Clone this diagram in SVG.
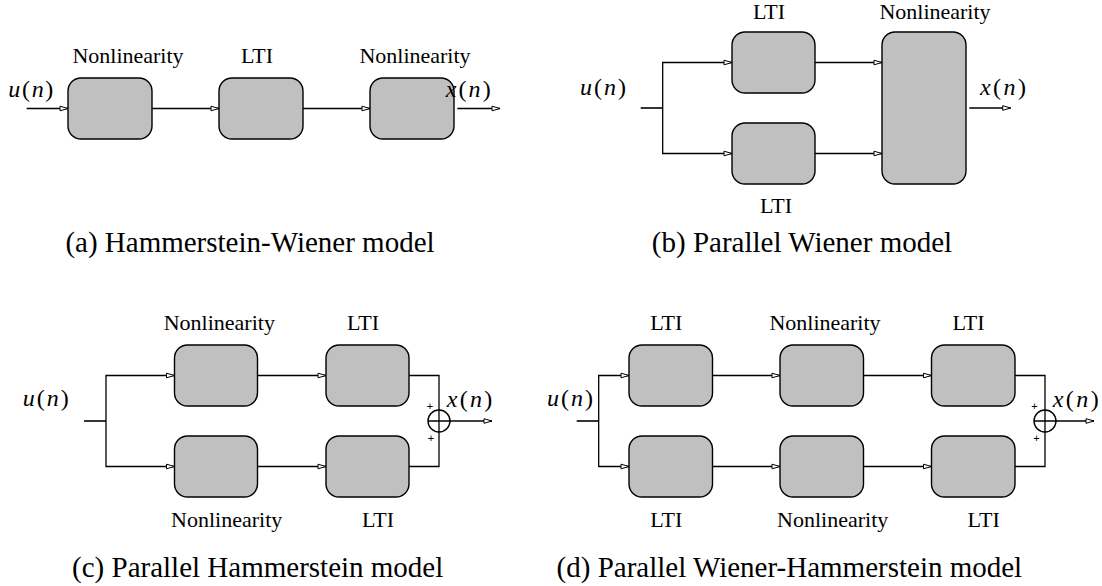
<svg xmlns="http://www.w3.org/2000/svg" width="1102" height="586" viewBox="0 0 1102 586">
<style>
.box{fill:#c0c0c0;stroke:#000;stroke-width:1.4}
.ln{fill:none;stroke:#000;stroke-width:1.3}
.stub{fill:none;stroke:#333;stroke-width:2}
.sum{fill:none;stroke:#000;stroke-width:1.4}
.lbl{font-family:"Liberation Serif",serif;font-size:22px;fill:#000;text-anchor:middle}
.math{font-family:"Liberation Serif",serif;font-size:24px;fill:#000}
.it{font-style:italic}
.cap{font-family:"Liberation Serif",serif;font-size:29px;fill:#000;text-anchor:middle}
.plus{font-family:"Liberation Sans",sans-serif;font-size:11px;fill:#000;text-anchor:middle}
</style>
<defs>
<marker id="arr" markerUnits="userSpaceOnUse" markerWidth="12" markerHeight="8" refX="9" refY="4" orient="auto">
<path d="M1,1.7 L9,4 L1,6.3 Z" fill="#fff" stroke="#000" stroke-width="1"/>
</marker>
</defs>

<!-- (a) Hammerstein-Wiener -->
<g id="a-n1"><rect class="box" x="68" y="78" width="84" height="61" rx="13"/><text class="lbl" x="128" y="63">Nonlinearity</text></g>
<g id="a-lti"><rect class="box" x="219" y="78" width="84" height="61" rx="13"/><text class="lbl" x="257" y="63">LTI</text></g>
<g id="a-n2"><rect class="box" x="370" y="78" width="84" height="61" rx="13"/><text class="lbl" x="415" y="63">Nonlinearity</text></g>
<g id="a-io">
<text class="math" x="8.3" y="96.5" textLength="45" lengthAdjust="spacing"><tspan class="it">u</tspan>(<tspan class="it">n</tspan>)</text>
<text class="math" x="445.7" y="96.5" textLength="45" lengthAdjust="spacing"><tspan class="it">x</tspan>(<tspan class="it">n</tspan>)</text>
</g>
<g id="a-conn">
<path class="ln" d="M26.7,108.5 H68" marker-end="url(#arr)"/>
<path class="ln" d="M152,108.5 H219" marker-end="url(#arr)"/>
<path class="ln" d="M303,108.5 H370" marker-end="url(#arr)"/>
<path class="ln" d="M457.3,108.5 H500" marker-end="url(#arr)"/>
</g>
<text class="cap" x="250" y="252">(a) Hammerstein-Wiener model</text>

<!-- (b) Parallel Wiener -->
<g id="b-lti1"><rect class="box" x="732" y="32" width="83" height="61" rx="13"/><text class="lbl" x="769" y="18.5">LTI</text></g>
<g id="b-lti2"><rect class="box" x="732" y="123" width="83" height="61" rx="13"/><text class="lbl" x="776" y="213.3">LTI</text></g>
<g id="b-n"><rect class="box" x="882" y="32" width="84" height="152" rx="13"/><text class="lbl" x="935" y="18.5">Nonlinearity</text></g>
<g id="b-io">
<text class="math" x="580" y="95" textLength="46" lengthAdjust="spacing"><tspan class="it">u</tspan>(<tspan class="it">n</tspan>)</text>
<text class="math" x="980" y="95" textLength="46" lengthAdjust="spacing"><tspan class="it">x</tspan>(<tspan class="it">n</tspan>)</text>
</g>
<g id="b-conn">
<path class="stub" d="M640.7,108 H662.7"/>
<path class="ln" d="M662.7,108 V62.5 H732" marker-end="url(#arr)"/>
<path class="ln" d="M662.7,108 V153.5 H732" marker-end="url(#arr)"/>
<path class="ln" d="M815,62.5 H882" marker-end="url(#arr)"/>
<path class="ln" d="M815,153.5 H882" marker-end="url(#arr)"/>
<path class="ln" d="M969.3,108 H1010.7" marker-end="url(#arr)"/>
</g>
<text class="cap" x="802" y="252">(b) Parallel Wiener model</text>

<!-- (c) Parallel Hammerstein -->
<g id="c-n1"><rect class="box" x="174.5" y="345" width="83" height="61" rx="13"/><text class="lbl" x="219.3" y="330">Nonlinearity</text></g>
<g id="c-l1"><rect class="box" x="326" y="345" width="83" height="61" rx="13"/><text class="lbl" x="363" y="330">LTI</text></g>
<g id="c-n2"><rect class="box" x="174.5" y="436" width="83" height="61" rx="13"/><text class="lbl" x="226.7" y="526.7">Nonlinearity</text></g>
<g id="c-l2"><rect class="box" x="326" y="436" width="83" height="61" rx="13"/><text class="lbl" x="378" y="526.7">LTI</text></g>
<g id="c-sum">
<circle class="sum" cx="439" cy="421" r="11"/>
<text class="plus" x="430" y="409.5">+</text>
<text class="plus" x="431" y="441.5">+</text>
</g>
<g id="c-io">
<text class="math" x="22.8" y="406" textLength="46" lengthAdjust="spacing"><tspan class="it">u</tspan>(<tspan class="it">n</tspan>)</text>
<text class="math" x="446.7" y="406.7" textLength="45.6" lengthAdjust="spacing"><tspan class="it">x</tspan>(<tspan class="it">n</tspan>)</text>
</g>
<g id="c-conn">
<path class="stub" d="M84,421 H106"/>
<path class="ln" d="M106,421 V375.5 H174.5" marker-end="url(#arr)"/>
<path class="ln" d="M106,421 V466.5 H174.5" marker-end="url(#arr)"/>
<path class="ln" d="M257.5,375.5 H326" marker-end="url(#arr)"/>
<path class="ln" d="M257.5,466.5 H326" marker-end="url(#arr)"/>
<path class="ln" d="M409,375.5 H439 V466.5 H409"/>
<path class="ln" d="M428,421 H492" marker-end="url(#arr)"/>
</g>
<text class="cap" x="257.7" y="576.7">(c) Parallel Hammerstein model</text>

<!-- (d) Parallel Wiener-Hammerstein -->
<g id="d-l1"><rect class="box" x="629" y="345" width="83.5" height="61" rx="13"/><text class="lbl" x="666.3" y="330">LTI</text></g>
<g id="d-n1"><rect class="box" x="780" y="345" width="83.5" height="61" rx="13"/><text class="lbl" x="825" y="330">Nonlinearity</text></g>
<g id="d-l2"><rect class="box" x="931.5" y="345" width="83.5" height="61" rx="13"/><text class="lbl" x="968.5" y="330">LTI</text></g>
<g id="d-l3"><rect class="box" x="629" y="436" width="83.5" height="61" rx="13"/><text class="lbl" x="666.3" y="526.7">LTI</text></g>
<g id="d-n2"><rect class="box" x="780" y="436" width="83.5" height="61" rx="13"/><text class="lbl" x="832.7" y="526.7">Nonlinearity</text></g>
<g id="d-l4"><rect class="box" x="931.5" y="436" width="83.5" height="61" rx="13"/><text class="lbl" x="983.7" y="526.7">LTI</text></g>
<g id="d-sum">
<circle class="sum" cx="1045" cy="421" r="11"/>
<text class="plus" x="1034.5" y="409.5">+</text>
<text class="plus" x="1036.5" y="441.5">+</text>
</g>
<g id="d-io">
<text class="math" x="547" y="406" textLength="46" lengthAdjust="spacing"><tspan class="it">u</tspan>(<tspan class="it">n</tspan>)</text>
<text class="math" x="1052.7" y="406.7" textLength="46" lengthAdjust="spacing"><tspan class="it">x</tspan>(<tspan class="it">n</tspan>)</text>
</g>
<g id="d-conn">
<path class="stub" d="M576.7,421 H598.7"/>
<path class="ln" d="M598.7,421 V375.5 H629" marker-end="url(#arr)"/>
<path class="ln" d="M598.7,421 V466.5 H629" marker-end="url(#arr)"/>
<path class="ln" d="M712.5,375.5 H780" marker-end="url(#arr)"/>
<path class="ln" d="M712.5,466.5 H780" marker-end="url(#arr)"/>
<path class="ln" d="M863.5,375.5 H931.5" marker-end="url(#arr)"/>
<path class="ln" d="M863.5,466.5 H931.5" marker-end="url(#arr)"/>
<path class="ln" d="M1015,375.5 H1045 V466.5 H1015"/>
<path class="ln" d="M1034,421 H1094" marker-end="url(#arr)"/>
</g>
<text class="cap" x="789.4" y="576.7">(d) Parallel Wiener-Hammerstein model</text>
</svg>
